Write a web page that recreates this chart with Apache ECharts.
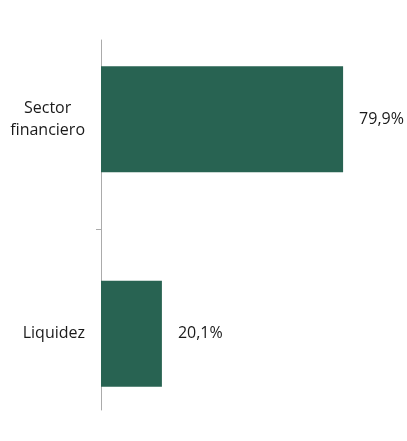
<!DOCTYPE html>
<html>
<head>
<meta charset="utf-8">
<script src="https://cdn.jsdelivr.net/npm/echarts@6/dist/echarts.min.js"></script>
<style>
  html, body { margin: 0; padding: 0; background: #fff; }
  #chart { width: 407px; height: 441px; }
</style>
</head>
<body>
<div id="chart"></div>
<script>
// Chart data
const categories = ['Sector financiero', 'Liquidez']
const shares = [79.9, 20.1]

const barColor = '#286352'
const axisColor = '#ABABAB'
const textColor = '#1a1a1a'
const fontFamily = '"Open Sans", "Noto Sans", sans-serif'

const chart = echarts.init(document.getElementById('chart'))

chart.setOption({
  animation: false,
  grid: [
    // bars
    { left: 101, top: 12, width: 303, height: 432 },
    // visible axis line + separator tick
    { left: 101, top: 40, width: 303, height: 370 }
  ],
  xAxis: [
    { gridIndex: 0, type: 'value', min: 0, max: 100, show: false },
    { gridIndex: 1, type: 'value', min: 0, max: 100, show: false }
  ],
  yAxis: [
    {
      gridIndex: 0,
      type: 'category',
      data: categories,
      inverse: true,
      axisLine: { show: false },
      axisTick: { show: false },
      axisLabel: {
        margin: 16,
        formatter: (value) => value.split(' ').map(w => '{a|' + w + '}').join('\n'),
        rich: {
          a: {
            align: 'center',
            fontSize: 16,
            lineHeight: 22,
            color: textColor,
            fontFamily
          }
        }
      }
    },
    {
      gridIndex: 1,
      type: 'value',
      inverse: true,
      min: 0,
      max: 370,
      axisLine: { show: true, lineStyle: { color: axisColor, width: 1 } },
      axisTick: {
        show: true,
        length: 5,
        customValues: [189],
        lineStyle: { color: axisColor }
      },
      axisLabel: { show: false },
      splitLine: { show: false }
    }
  ],
  series: [
    {
      type: 'bar',
      xAxisIndex: 0,
      yAxisIndex: 0,
      data: shares,
      barWidth: 106,
      itemStyle: { color: barColor },
      label: {
        show: true,
        position: 'right',
        distance: 16,
        color: textColor,
        fontSize: 16,
        fontFamily,
        formatter: (p) => p.value.toFixed(1).replace('.', ',') + '%'
      }
    }
  ]
})
</script>
</body>
</html>
